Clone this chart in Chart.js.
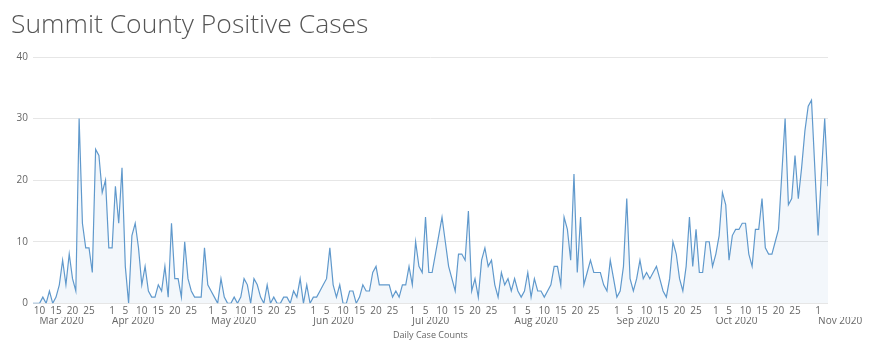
<!DOCTYPE html>
<html>
<head>
<meta charset="utf-8">
<title>Summit County Positive Cases</title>
<script src="https://cdn.jsdelivr.net/npm/chart.js@4.4.1/dist/chart.umd.min.js"></script>
<style>
  html, body { margin: 0; padding: 0; background: #fff; }
  #wrap { width: 880px; height: 349px; position: relative; }
  #title {
    position: absolute; left: 11px; top: 9px;
    font-family: "Open Sans", sans-serif; font-weight: 300;
    font-size: 26.5px; line-height: 28px; color: #555; white-space: nowrap;
  }
</style>
</head>
<body>
<div id="wrap">
  <div id="title"></div>
  <canvas id="casesChart"></canvas>
</div>
<script>
// First day in the series is 8 Mar 2020, one value per day
const startDate = Date.UTC(2020, 2, 8);

const marCases = [0, 0, 0, 1, 0, 2, 0, 1, 3, 7, 3, 8, 4, 2, 30, 13, 9, 9, 5, 25, 24, 18, 20, 9];
const aprCases = [9, 19, 13, 22, 6, 0, 11, 13, 9, 3, 6, 2, 1, 1, 3, 2, 6, 1, 13, 4, 4, 1, 10, 4, 2, 1, 1, 1, 9, 3];
const mayCases = [2, 1, 0, 4, 1, 0, 0, 1, 0, 1, 4, 3, 0, 4, 3, 1, 0, 3, 0, 1, 0, 0, 1, 1, 0, 2, 1, 4, 0, 3, 0];
const junCases = [1, 1, 2, 3, 4, 9, 3, 1, 3, 0, 0, 2, 2, 0, 1, 3, 2, 2, 5, 6, 3, 3, 3, 3, 1, 2, 1, 3, 3, 6];
const julCases = [3, 10, 6, 5, 14, 5, 5, 8, 11, 14, 10, 6, 4, 2, 8, 8, 7, 15, 2, 4, 1, 7, 9, 6, 7, 3, 1, 5, 3, 4, 2];
const augCases = [4, 2, 1, 2, 5, 1, 4, 2, 2, 1, 2, 3, 6, 6, 3, 14, 12, 7, 21, 5, 14, 3, 5, 7, 5, 5, 5, 3, 2, 7, 4];
const sepCases = [1, 2, 6, 17, 4, 2, 4, 7, 4, 5, 4, 5, 6, 4, 2, 1, 4, 10, 8, 4, 2, 6, 14, 6, 12, 5, 5, 10, 10, 6];
const octCases = [8, 11, 18, 16, 7, 11, 12, 12, 13, 13, 8, 6, 12, 12, 17, 9, 8, 8, 10, 12, 21, 30, 16, 17, 24, 17, 22, 28, 32, 33, 22];
const novCases = [11, 21, 30, 19];

const dayTickDays = [1, 5, 10, 15, 20, 25];
const monthNames = ['Jan', 'Feb', 'Mar', 'Apr', 'May', 'Jun', 'Jul', 'Aug', 'Sep', 'Oct', 'Nov', 'Dec'];
const yTicks = [0, 10, 20, 30, 40];
const chartTitle = 'Summit County Positive Cases';
const xTitle = 'Daily Case Counts';

document.getElementById('title').textContent = chartTitle;

const cases = [].concat(marCases, aprCases, mayCases, junCases, julCases, augCases, sepCases, octCases, novCases);
const lastIdx = cases.length - 1;

const dateOf = i => new Date(startDate + i * 86400000);

// day-of-month ticks, and month labels on the first labelled tick of each month
const dayTickIdx = [];
const monthTickIdx = [];
const seenMonths = {};
cases.forEach((v, i) => {
  const d = dateOf(i);
  if (dayTickDays.includes(d.getUTCDate())) {
    dayTickIdx.push(i);
    if (!seenMonths[d.getUTCMonth()]) {
      seenMonths[d.getUTCMonth()] = true;
      monthTickIdx.push(i);
    }
  }
});

const fontFamily = '"Open Sans", sans-serif';
const textGrey = '#666';

new Chart(document.getElementById('casesChart'), {
  type: 'line',
  data: {
    datasets: [{
      data: cases.map((v, i) => ({ x: i, y: v })),
      borderColor: 'rgb(96, 153, 204)',
      backgroundColor: 'rgba(96, 153, 204, 0.08)',
      borderWidth: 1.2,
      fill: 'origin',
      pointRadius: 0,
      tension: 0
    }]
  },
  options: {
    responsive: true,
    maintainAspectRatio: false,
    animation: false,
    layout: { padding: { left: 11.5, right: 52, top: 57, bottom: 8 } },
    plugins: {
      legend: { display: false },
      tooltip: { enabled: false },
      title: { display: false }
    },
    scales: {
      x: {
        type: 'linear',
        min: 0,
        max: lastIdx,
        weight: 0,
        grid: { display: false, drawTicks: false },
        border: { display: false },
        afterBuildTicks: s => { s.ticks = dayTickIdx.map(v => ({ value: v })); },
        afterFit: s => { s.height = 13.6; },
        ticks: {
          autoSkip: false,
          maxRotation: 0,
          padding: 3,
          color: textGrey,
          font: { family: fontFamily, size: 10, lineHeight: 1.06 },
          callback: v => String(dateOf(v).getUTCDate())
        }
      },
      // second row of the time axis: month names
      xMonth: {
        type: 'linear',
        position: 'bottom',
        min: 0,
        max: lastIdx,
        weight: 1,
        grid: { display: false, drawTicks: false },
        border: { display: false },
        afterBuildTicks: s => { s.ticks = monthTickIdx.map(v => ({ value: v })); },
        afterFit: s => { s.height = 24.1; },
        ticks: {
          autoSkip: false,
          maxRotation: 0,
          align: 'start',
          padding: 0,
          color: textGrey,
          font: { family: fontFamily, size: 10, lineHeight: 0.94 },
          callback: v => monthNames[dateOf(v).getUTCMonth()] + ' ' + dateOf(v).getUTCFullYear()
        },
        title: {
          display: true,
          text: xTitle,
          color: textGrey,
          font: { family: fontFamily, size: 9 },
          padding: { top: 3.9, bottom: 0 }
        }
      },
      y: {
        min: 0,
        max: 40,
        afterBuildTicks: s => { s.ticks = yTicks.map(v => ({ value: v })); },
        grid: { color: '#e6e6e6', drawTicks: false },
        border: { display: false },
        ticks: { padding: 5, color: textGrey, font: { family: fontFamily, size: 10 } }
      }
    }
  }
});
</script>
</body>
</html>
